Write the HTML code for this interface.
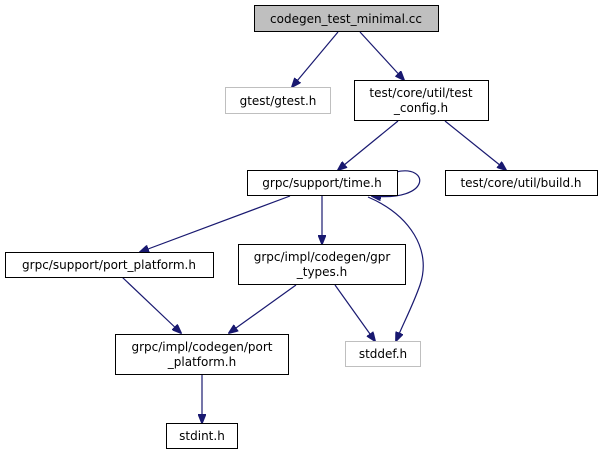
<!DOCTYPE html>
<html><head><meta charset="utf-8"><style>
html,body{margin:0;padding:0;background:#fff;}
svg text{font-family:"DejaVu Sans","Liberation Sans",sans-serif;font-size:12px;fill:#000;}
</style></head><body>
<svg width="601" height="455" viewBox="0 0 601 455" xmlns="http://www.w3.org/2000/svg">
<defs><marker id="a" markerWidth="10" markerHeight="8" refX="9" refY="4" orient="auto" markerUnits="userSpaceOnUse"><path d="M0,0 L10,4 L0,8 z" fill="#191970" stroke="#191970"/></marker></defs>
<g fill="none" stroke="#191970" stroke-width="1.2" marker-end="url(#a)">
<line x1="338" y1="32" x2="292" y2="87"/>
<line x1="360" y1="32" x2="404" y2="80"/>
<line x1="398" y1="121" x2="338" y2="170"/>
<line x1="445" y1="121" x2="506" y2="170"/>
<path d="M396,172 C430,164 432,202 372,196"/>
<line x1="290" y1="196" x2="140" y2="252"/>
<line x1="322" y1="195" x2="322" y2="244"/>
<line x1="122" y1="277" x2="181" y2="333"/>
<line x1="296" y1="285" x2="229" y2="333"/>
<line x1="335" y1="285" x2="375" y2="341"/>
<path d="M368,197 C410,215 432,250 420,285 C413,305 404,322 396,341"/>
<line x1="202" y1="374" x2="202" y2="423"/>
</g>
<g stroke-width="1">
<rect x="254.5" y="5.5" width="184" height="26" fill="#bfbfbf" stroke="#000"/>
<rect x="225.5" y="87.5" width="105" height="26" fill="#fff" stroke="#bfbfbf"/>
<rect x="354.5" y="80.5" width="134" height="40" fill="#fff" stroke="#000"/>
<rect x="247.5" y="170.5" width="150" height="25" fill="#fff" stroke="#000"/>
<rect x="445.5" y="170.5" width="152" height="25" fill="#fff" stroke="#000"/>
<rect x="5.5" y="252.5" width="208" height="25" fill="#fff" stroke="#000"/>
<rect x="238.5" y="244.5" width="167" height="40" fill="#fff" stroke="#000"/>
<rect x="115.5" y="334.5" width="173" height="40" fill="#fff" stroke="#000"/>
<rect x="345.5" y="341.5" width="75" height="25" fill="#fff" stroke="#bfbfbf"/>
<rect x="166.5" y="423.5" width="71" height="25" fill="#fff" stroke="#000"/>
</g>
<g text-anchor="middle">
<text x="346" y="23">codegen_test_minimal.cc</text>
<text x="278" y="105">gtest/gtest.h</text>
<text x="421" y="97">test/core/util/test</text>
<text x="421" y="112">_config.h</text>
<text x="322" y="187">grpc/support/time.h</text>
<text x="521" y="187">test/core/util/build.h</text>
<text x="109" y="269">grpc/support/port_platform.h</text>
<text x="322" y="261">grpc/impl/codegen/gpr</text>
<text x="322" y="276">_types.h</text>
<text x="202" y="351">grpc/impl/codegen/port</text>
<text x="202" y="366">_platform.h</text>
<text x="383" y="358">stddef.h</text>
<text x="202" y="440">stdint.h</text>
</g>
</svg>
</body></html>
